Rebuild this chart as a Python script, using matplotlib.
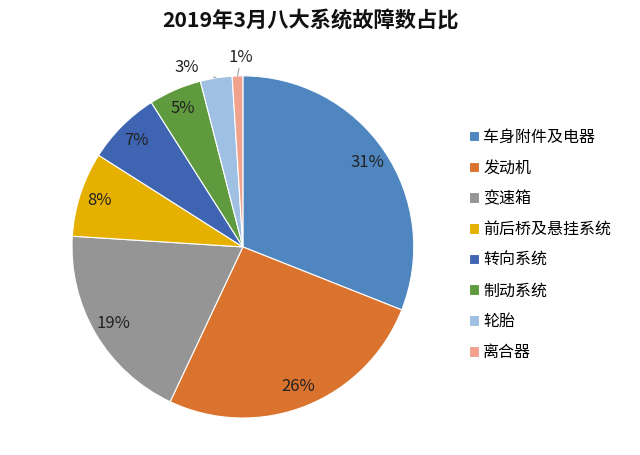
import numpy as np
import matplotlib.pyplot as plt

plt.rcParams['font.family'] = ['Noto Sans CJK SC', 'DejaVu Sans']

labels = ['车身附件及电器', '发动机', '变速箱', '前后桥及悬挂系统', '转向系统', '制动系统', '轮胎', '离合器']
shares = [31, 26, 19, 8, 7, 5, 3, 1]
colors = ['#4f86c0', '#d9732e', '#959595', '#e6b000', '#3f65b2', '#5f9b3e', '#9fc0e2', '#f0a28c']

fig = plt.figure(figsize=(6.4, 4.55), dpi=100)
ax = fig.add_axes([0.1125, 0.0813, 0.534, 0.752])

wedges, _ = ax.pie(shares, colors=colors, startangle=90, counterclock=False,
                   wedgeprops=dict(edgecolor='white', linewidth=0.8))
ax.set_xlim(-1, 1)
ax.set_ylim(-1, 1)
ax.set_aspect('auto')

# labels inside for big slices, outside with leader line for the small ones
for w, v in zip(wedges, shares):
    ang = np.deg2rad((w.theta1 + w.theta2) / 2)
    x, y = np.cos(ang), np.sin(ang)
    txt = f'{v}%'
    if v >= 5:
        ax.text(0.88 * x, 0.88 * y, txt, ha='center', va='center', fontsize=12, color='#222222')
    elif v == 3:
        ax.annotate(txt, xy=(x, y), xytext=(-0.33, 1.05), ha='center', va='center',
                    fontsize=12, color='#222222',
                    arrowprops=dict(arrowstyle='-', color='#a0a0a0', lw=0.8,
                                    shrinkA=9, shrinkB=0))
    else:
        ax.annotate(txt, xy=(x, y), xytext=(-0.01, 1.11), ha='center', va='center',
                    fontsize=12, color='#222222',
                    arrowprops=dict(arrowstyle='-', color='#a0a0a0', lw=0.8,
                                    shrinkA=6, shrinkB=0))

fig.text(0.485, 0.953, '2019年3月八大系统故障数占比', ha='center', va='center',
         fontsize=15.3, fontweight='bold', color='#111111')

fig.legend(wedges, labels, loc='center left', bbox_to_anchor=(0.71, 0.462),
           frameon=False, fontsize=11.5, handlelength=0.65, handleheight=0.65,
           handletextpad=0.25, labelspacing=0.86)

fig.savefig('out.png', dpi=100, facecolor='white')
